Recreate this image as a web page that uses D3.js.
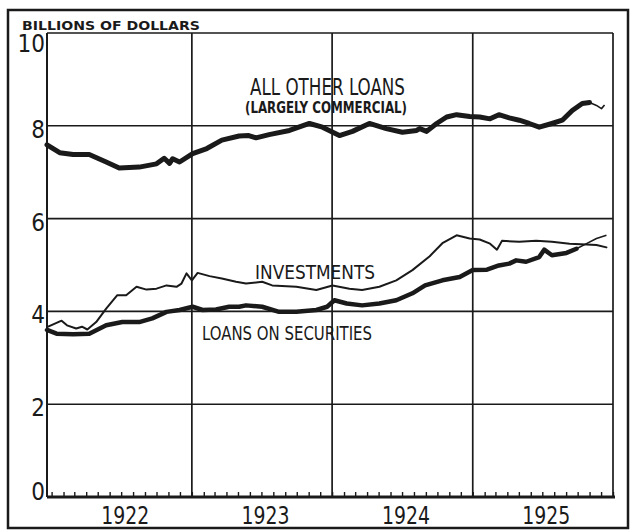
<!DOCTYPE html>
<html>
<head>
<meta charset="utf-8">
<script src="https://cdn.jsdelivr.net/npm/d3@7"></script>
<style>
	body { margin: 0; background: #fff; }
	text { font-family: "Liberation Sans Narrow", "DejaVu Sans Condensed", "Liberation Sans", sans-serif; fill: #1a1a1a; }
</style>
</head>
<body>
<div class="chart"></div>
<script>
	// data (billions of dollars)
	var otherDates = ["1921-12-20", "1922-01-22", "1922-02-26", "1922-04-09", "1922-05-23", "1922-06-26", "1922-08-17", "1922-10-01", "1922-10-21", "1922-11-04", "1922-11-12", "1922-11-30",
		"1923-01-03", "1923-02-09", "1923-03-20", "1923-05-04", "1923-05-29", "1923-06-17", "1923-07-21", "1923-09-12", "1923-11-03", "1923-12-07",
		"1924-01-20", "1924-02-23", "1924-04-07", "1924-05-21", "1924-07-02", "1924-08-08", "1924-08-16", "1924-09-03", "1924-09-29", "1924-10-25", "1924-11-20", "1924-12-24",
		"1925-01-19", "1925-02-15", "1925-03-10", "1925-04-06", "1925-05-02", "1925-05-28", "1925-06-23", "1925-07-26", "1925-08-22", "1925-09-17", "1925-10-13", "1925-11-01", "1925-11-19", "1925-12-02", "1925-12-10"];
	var otherLoans = [7.59, 7.42, 7.38, 7.38, 7.22, 7.09, 7.11, 7.18, 7.30, 7.19, 7.29, 7.22,
		7.40, 7.51, 7.69, 7.78, 7.79, 7.74, 7.81, 7.90, 8.05, 7.97,
		7.79, 7.88, 8.05, 7.94, 7.86, 7.90, 7.94, 7.88, 8.05, 8.19, 8.24, 8.20,
		8.19, 8.15, 8.24, 8.17, 8.12, 8.05, 7.97, 8.05, 8.12, 8.33, 8.48, 8.50, 8.44, 8.37, 8.45];

	var investDates = ["1921-12-20", "1922-01-27", "1922-02-10", "1922-03-06", "1922-03-21", "1922-04-04", "1922-04-27", "1922-05-23", "1922-06-21", "1922-07-14", "1922-08-10", "1922-09-05", "1922-10-01", "1922-10-27", "1922-11-22", "1922-12-05", "1922-12-18",
		"1923-01-01", "1923-01-16", "1923-02-16", "1923-03-20", "1923-04-26", "1923-05-22", "1923-07-03", "1923-07-29", "1923-09-30", "1923-11-21",
		"1924-01-02", "1924-02-15", "1924-03-19", "1924-05-03", "1924-06-16", "1924-07-28", "1924-09-11", "1924-10-14", "1924-11-20", "1924-12-24",
		"1925-01-19", "1925-02-15", "1925-03-05", "1925-03-18", "1925-05-02", "1925-06-15", "1925-07-26", "1925-09-10", "1925-10-24", "1925-11-19", "1925-12-15"];
	var investments = [3.66, 3.80, 3.70, 3.63, 3.67, 3.61, 3.77, 4.06, 4.35, 4.35, 4.53, 4.47, 4.49, 4.56, 4.53, 4.60, 4.82,
		4.67, 4.83, 4.76, 4.71, 4.64, 4.60, 4.64, 4.56, 4.53, 4.46,
		4.56, 4.49, 4.46, 4.53, 4.67, 4.89, 5.19, 5.47, 5.64, 5.57,
		5.55, 5.46, 5.33, 5.52, 5.50, 5.52, 5.50, 5.46, 5.44, 5.43, 5.38];

	var secDates = ["1921-12-20", "1922-01-14", "1922-02-26", "1922-04-09", "1922-05-23", "1922-07-04", "1922-08-17", "1922-09-20", "1922-10-27", "1922-11-30",
		"1923-01-03", "1923-01-29", "1923-03-05", "1923-04-08", "1923-05-04", "1923-05-22", "1923-07-03", "1923-08-16", "1923-09-30", "1923-11-21", "1923-12-19",
		"1924-01-07", "1924-02-08", "1924-03-19", "1924-05-03", "1924-06-16", "1924-07-28", "1924-08-30", "1924-10-14", "1924-11-28",
		"1925-01-01", "1925-02-07", "1925-03-10", "1925-04-06", "1925-04-24", "1925-05-20", "1925-06-23", "1925-07-06", "1925-07-26", "1925-09-02", "1925-09-28", "1925-10-24", "1925-11-19", "1925-12-15"];
	var securities = [3.60, 3.52, 3.51, 3.52, 3.70, 3.77, 3.77, 3.85, 3.99, 4.03,
		4.10, 4.03, 4.04, 4.10, 4.10, 4.13, 4.10, 3.99, 3.99, 4.03, 4.10,
		4.24, 4.17, 4.13, 4.17, 4.24, 4.39, 4.56, 4.67, 4.74,
		4.89, 4.90, 4.99, 5.03, 5.10, 5.07, 5.17, 5.33, 5.21, 5.26, 5.35, 5.46, 5.57, 5.64];

	var yTicks = [0, 2, 4, 6, 8, 10];
	var years = ["1922", "1923", "1924", "1925"];

	var svg_w = 631, svg_h = 530;
	var plotL = 47, plotR = 613, plotT = 33, plotB = 497;
	var ink = "#1a1a1a";

	var svg = d3.select("div.chart").append("svg")
		.attr("width", svg_w)
		.attr("height", svg_h);

	var parse = d3.timeParse("%Y-%m-%d");
	var x = d3.scaleTime()
		.domain([parse("1921-12-20"), parse("1926-01-01")])
		.range([plotL, plotR]);
	var y = d3.scaleLinear()
		.domain([0, 10])
		.range([plotB, plotT]);

	function series(dates, vals) {
		return dates.map(function(d, i) { return { date: parse(d), value: vals[i] }; });
	}

	// outer frame
	svg.append("rect")
		.attr("x", 8).attr("y", 10)
		.attr("width", 620).attr("height", 518)
		.attr("fill", "none").attr("stroke", ink).attr("stroke-width", 2.5);

	// horizontal grid
	svg.append("g").selectAll("line")
		.data(yTicks.filter(function(d) { return d > 0; }))
		.enter().append("line")
		.attr("x1", plotL).attr("x2", plotR)
		.attr("y1", function(d) { return y(d); })
		.attr("y2", function(d) { return y(d); })
		.attr("stroke", ink).attr("stroke-width", 1.6);

	// vertical grid at year boundaries
	var yearEdges = years.slice(1).map(function(d) { return parse(d + "-01-01"); }).concat([parse("1926-01-01")]);
	svg.append("g").selectAll("line")
		.data(yearEdges)
		.enter().append("line")
		.attr("x1", function(d) { return x(d); })
		.attr("x2", function(d) { return x(d); })
		.attr("y1", plotT).attr("y2", plotB)
		.attr("stroke", ink).attr("stroke-width", 1.7);

	// left axis and base line
	svg.append("line")
		.attr("x1", plotL).attr("x2", plotL).attr("y1", plotT).attr("y2", plotB)
		.attr("stroke", ink).attr("stroke-width", 2);

	var xAxis = d3.axisTop(x)
		.ticks(d3.timeMonth.every(1))
		.tickSize(5)
		.tickFormat("");
	var axG = svg.append("g")
		.attr("transform", "translate(0," + plotB + ")")
		.call(xAxis);
	axG.select(".domain").remove();
	axG.selectAll("line").attr("stroke", ink).attr("stroke-width", 1.4);
	svg.append("line")
		.attr("x1", plotL).attr("x2", plotR + 2).attr("y1", plotB).attr("y2", plotB)
		.attr("stroke", ink).attr("stroke-width", 3);

	// y labels
	svg.append("g").selectAll("text")
		.data(yTicks)
		.enter().append("text")
		.attr("x", 45)
		.attr("y", function(d) { return Math.min(Math.max(y(d) + 3, plotT + 10), plotB - 6) + 9; })
		.attr("text-anchor", "end")
		.attr("font-size", 24)
		.text(function(d) { return d; });

	// year labels
	svg.append("g").selectAll("text")
		.data(years)
		.enter().append("text")
		.attr("x", function(d) { return x(parse(d + "-07-01")) + 4; })
		.attr("y", 524)
		.attr("text-anchor", "middle")
		.attr("font-size", 25)
		.attr("textLength", 48)
		.attr("lengthAdjust", "spacingAndGlyphs")
		.text(function(d) { return d; });

	// lines
	var line = d3.line()
		.x(function(d) { return x(d.date); })
		.y(function(d) { return y(d.value); });

	function draw(data, width, thinFrom) {
		var cut = thinFrom ? data.findIndex(function(d) { return d.date >= parse(thinFrom); }) : data.length;
		svg.append("path")
			.datum(data.slice(0, cut))
			.attr("d", line)
			.attr("fill", "none").attr("stroke", ink)
			.attr("stroke-width", width)
			.attr("stroke-linejoin", "round").attr("stroke-linecap", "round");
		if (cut < data.length) {
			svg.append("path")
				.datum(data.slice(cut - 1))
				.attr("d", line)
				.attr("fill", "none").attr("stroke", ink)
				.attr("stroke-width", 1.6)
				.attr("stroke-linejoin", "round");
		}
	}

	draw(series(otherDates, otherLoans), 5, "1925-11-19");
	draw(series(investDates, investments), 2);
	draw(series(secDates, securities), 4.5, "1925-10-24");

	// labels
	function label(txt, lx, ly, size, len, weight) {
		svg.append("text")
			.attr("x", lx).attr("y", ly)
			.attr("font-size", size)
			.attr("font-weight", weight || "normal")
			.attr("textLength", len)
			.attr("lengthAdjust", "spacingAndGlyphs")
			.text(txt);
	}
	label("BILLIONS OF DOLLARS", 22, 30, 13, 178, "bold");
	label("ALL OTHER LOANS", 250, 95, 23, 155);
	label("(LARGELY COMMERCIAL)", 245, 113, 15, 162, "bold");
	label("INVESTMENTS", 255, 279, 19, 120);
	label("LOANS ON SECURITIES", 202, 340, 19, 170);
</script>
</body>
</html>
